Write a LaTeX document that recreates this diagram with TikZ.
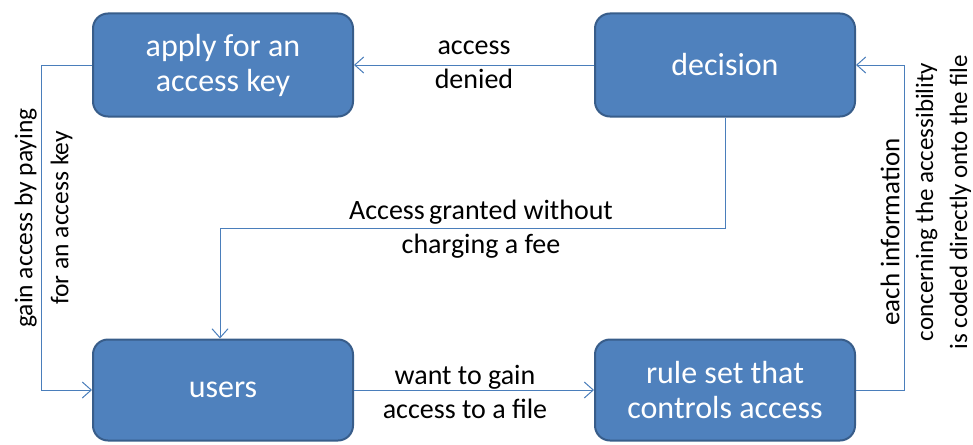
\documentclass[tikz,border=0pt]{standalone}
\usepackage{fontspec}
\setmainfont{Carlito}
\usetikzlibrary{arrows.meta}
\definecolor{boxfill}{HTML}{4F81BD}
\definecolor{boxline}{HTML}{385D8A}
\definecolor{wire}{HTML}{4A7EBB}
\begin{document}
\begin{tikzpicture}[x=1pt,y=-1pt,
  stepbox/.style={draw=boxline, line width=2pt, fill=boxfill, rounded corners=15pt,
    minimum width=260pt, minimum height=103pt, text=white, align=center,
    font=\fontsize{32}{35}\selectfont, inner sep=0pt},
  wirearrow/.style={draw=wire, line width=1pt,
    -{Straight Barb[length=9pt,width=16pt,line width=1pt]}},
  lbl/.style={align=center, font=\fontsize{28}{34}\selectfont, inner sep=0pt, text=black},
  sidelbl/.style={lbl, rotate=90, font=\fontsize{25.5}{36}\selectfont}]
  \useasboundingbox (0,0) rectangle (973,444);

  % process boxes
  \node[stepbox] (app) at (223,65) {apply for an\\access key};
  \node[stepbox] (dec) at (725,65) {decision};
  \node[stepbox, minimum height=101pt] (usr) at (223,390) {users};
  \node[stepbox, minimum height=101pt] (rule) at (725,390) {rule set that\\controls access};

  % connectors
  \draw[wirearrow] (dec.west) -- (app.east);
  \draw[wirearrow] (app.west) -- ++(-51,0) |- (usr.west);
  \draw[wirearrow] (dec.south) -- ++(0,111) -| ([xshift=-3pt]usr.north);
  \draw[wirearrow] (usr.east) -- (rule.west);
  \draw[wirearrow] (rule.east) -- ++(48,0) |- (dec.east);

  % connector labels
  \node[lbl] (lden) at (474,65) {access\\denied};
  \node[lbl] (lgrant) at (481,229) {Access\hspace{-2pt} granted without\\charging a fee};
  \node[lbl] (lwant) at (465,392) {want to gain\\access to a file};
  \node[sidelbl] (lpay) at (43.5,218) {gain access by paying\\for an access key};
  \node[sidelbl, font=\fontsize{27}{36}\selectfont] (linfo1) at (890,232) {each information};
  \node[sidelbl, font=\fontsize{25}{34}\selectfont] (linfo2) at (943.5,202)
    {concerning the accessibility\\is coded directly onto the file};
\end{tikzpicture}
\end{document}
